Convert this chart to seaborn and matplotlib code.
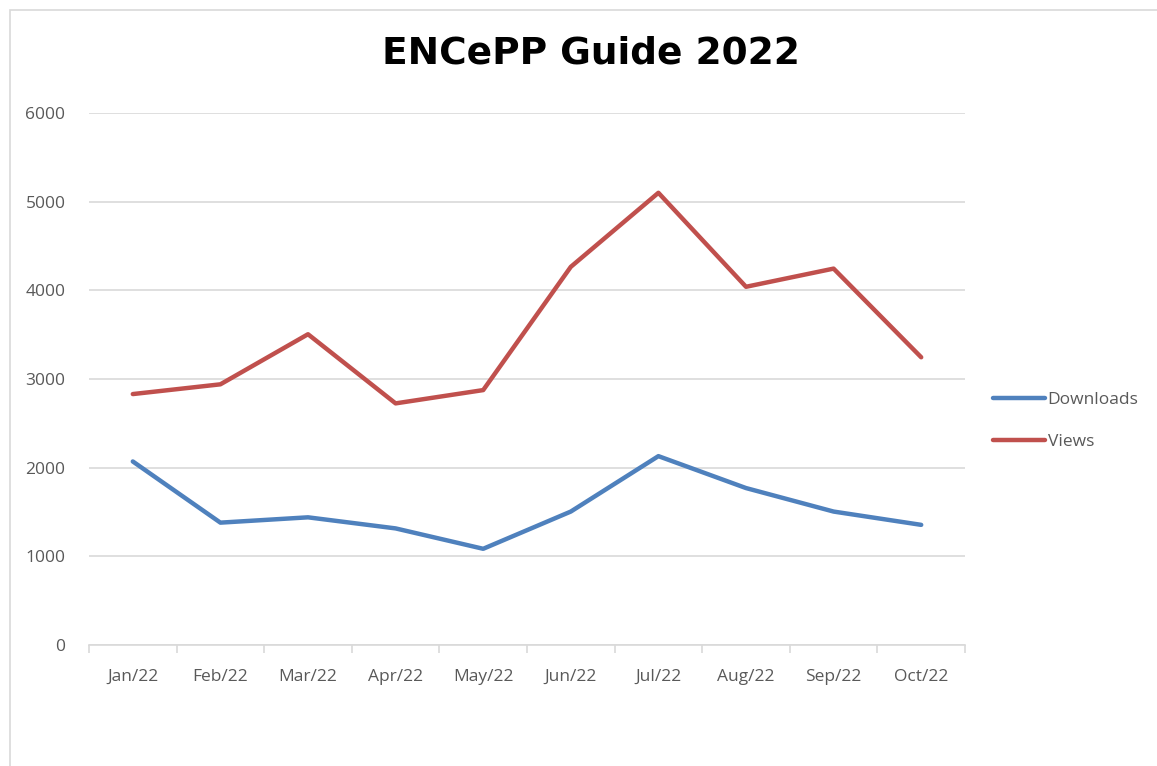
import seaborn as sns
import matplotlib.pyplot as plt
import pandas as pd
from matplotlib.patches import Rectangle
from matplotlib.ticker import FixedLocator

months = ['Jan/22', 'Feb/22', 'Mar/22', 'Apr/22', 'May/22', 'Jun/22',
          'Jul/22', 'Aug/22', 'Sep/22', 'Oct/22']
downloads = [2070, 1380, 1440, 1315, 1085, 1505, 2130, 1770, 1505, 1355]
views = [2830, 2940, 3505, 2725, 2875, 4265, 5100, 4040, 4245, 3245]
series = ['Downloads', 'Views']
colors = ['#4F81BD', '#C0504D']

df = pd.DataFrame({'Month': months * 2,
                   'Value': downloads + views,
                   'Series': [series[0]] * len(months) + [series[1]] * len(months)})
df['x'] = df['Month'].map({m: i for i, m in enumerate(months)})

sns.set_theme(style='white')
plt.rcParams['font.family'] = ['Open Sans', 'DejaVu Sans']

fig = plt.figure(figsize=(11.57, 7.66), dpi=100)
fig.patches.append(Rectangle((10 / 1157, -0.1), 1.2, 1 - 10 / 766 + 0.1, transform=fig.transFigure,
                             fill=False, edgecolor='#D9D9D9', linewidth=1.2))
ax = fig.add_axes([89 / 1157, 121 / 766, 876 / 1157, 532 / 766])

sns.lineplot(data=df, x='x', y='Value', hue='Series', palette=colors, linewidth=3.2,
             ax=ax, legend=False, sort=False)

ax.set_xlim(-0.5, len(months) - 0.5)
ax.set_ylim(0, 6000)
ax.set_yticks(range(0, 6001, 1000))
ax.yaxis.grid(True, color='#D9D9D9', linewidth=1.2)
ax.set_axisbelow(True)
for s in ['top', 'right', 'left']:
    ax.spines[s].set_visible(False)
ax.spines['bottom'].set_color('#D9D9D9')
ax.spines['bottom'].set_linewidth(1.2)

ax.set_xticks(range(len(months)))
ax.set_xticklabels(months)
ax.xaxis.set_minor_locator(FixedLocator([i - 0.5 for i in range(len(months) + 1)]))
ax.tick_params(axis='x', which='major', length=0, pad=17, labelsize=12.5, labelcolor='#595959')
ax.tick_params(axis='x', which='minor', length=6, width=1.2, color='#D9D9D9', bottom=True)
ax.tick_params(axis='y', length=0, pad=17, labelsize=12.5, labelcolor='#595959')
ax.set_xlabel('')
ax.set_ylabel('')

fig.text(0.511, 0.93, 'ENCePP Guide 2022', ha='center', va='center', fontsize=27,
         fontweight='bold', family='DejaVu Sans', color='black')

handles = [plt.Line2D([], [], color=c, linewidth=3.2) for c in colors]
fig.legend(handles, series, loc='center left', bbox_to_anchor=(986 / 1157, 1 - 421 / 766),
           frameon=False, fontsize=12.5, labelcolor='#595959', handlelength=3.0,
           handletextpad=0.15, labelspacing=1.5, borderaxespad=0)

fig.savefig('out.png', dpi=100, facecolor='white')
